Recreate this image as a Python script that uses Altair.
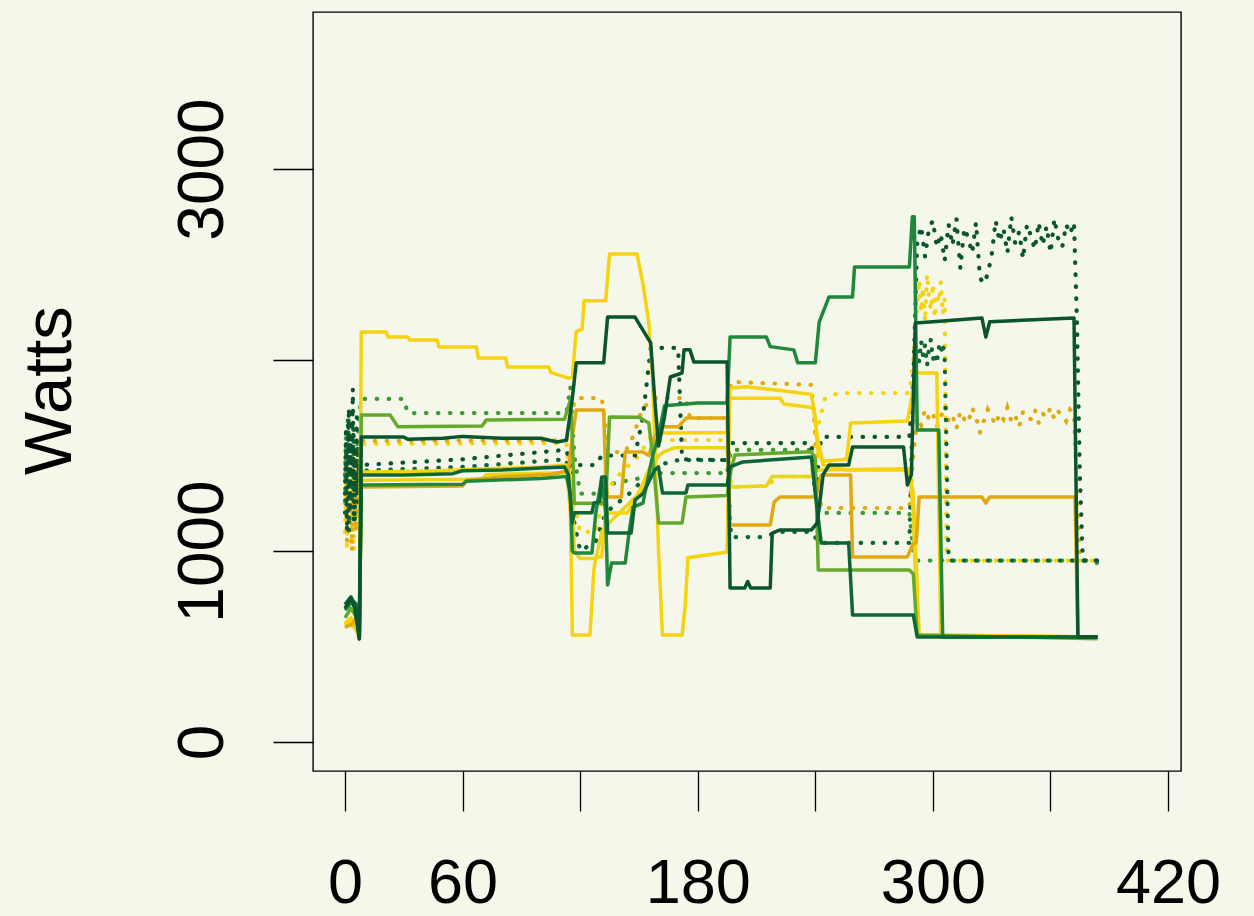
import altair as alt
import pandas as pd

# ---------------- solid series: (seconds, watts) ----------------
Y1 = [(0,620),(3,650),(6,610),(7.3,540),(8.3,2147),(21,2147),(22,2120),(32,2120),(33,2105),(47,2105),(48,2068),
      (67,2068),(68,2010),(82,2010),(83,1963),(104,1963),(105,1935),(114,1905),(116,1910),(118,2150),(121,2160),
      (122,2310),(133,2310),(135,2555),(149,2555),(152,2400),(155,2200),(157,1900),(160,1000),(162,560),(172,560),
      (173.5,700),(175,965),(195,995),(196.3,1800),(222,1800),(224,1770),(239,1750),(241,1600),(244,1450),
      (248,1440),(256,1424),(288,1424),(290,1300),(293,560),(384,550)]
Y2 = [(0,610),(4,640),(6.5,620),(7.3,545),(8.3,1414),(40,1418),(60,1425),(100,1440),(113,1450),(115,1200),
      (116,560),(125,560),(127,900),(128,969),(131,969),(133,1199),(144,1199),(147,1250),(152,1350),(158,1500),
      (160,1600),(162,1618),(195,1620),(196.5,1853),(205,1860),(222,1840),(238,1820),(240,1700),(241.5,1500),
      (244,1470),(256,1480),(258,1670),(287,1680),(289,1790),(291,1932),(302,1932),(304,550),(384,550)]
Y3 = [(0,630),(5,600),(7.3,550),(8.3,1370),(70,1375),(72,1400),(112,1410),(114,1430),(116,1300),(117,1000),
      (120,960),(128,960),(131,1100),(135,1150),(145,1250),(150,1300),(156,1420),(160,1500),(163,1520),
      (168,1540),(195,1540),(197,1335),(215,1340),(218,1390),(238,1390),(240,1420),(242,1424),(288,1430),
      (290,1200),(292,560),(384,550)]
O1 = [(0,600),(4,620),(6,660),(7.3,540),(8.3,1335),(60,1340),(62,1372),(80,1388),(105,1400),(114,1420),
      (116,1600),(118,1738),(132,1738),(133,1400),(134,1283),(141,1283),(143,1518),(152,1518),(155,1500),
      (158,1600),(162,1650),(170,1650),(174,1696),(195,1696),(196.5,1136),(217,1136),(219,1257),(222,1283),
      (240,1283),(243,1398),(258,1398),(259,969),(287,969),(290,1042),(291.5,1042),(293,1283),(325,1283),
      (327,1251),(329,1283),(372.5,1283),(374,550),(384,550)]
LG = [(0,650),(3,700),(6,650),(7.3,545),(8.3,1712),(23,1712),(27,1650),(70,1655),(72,1686),(112,1690),
      (115,1790),(116,1600),(117,1250),(133,1250),(135,1702),(150,1700),(155,1670),(157,1500),(160,1146),
      (172,1146),(174,1283),(195,1290),(197,1424),(199,1503),(238,1520),(240,1480),(241.5,900),(288,900),
      (290,880),(292,560),(384,540)]
G1 = [(0,690),(4,740),(6,720),(7.3,545),(8.3,1346),(60,1350),(62,1365),(100,1380),(113,1390),(115,1300),
      (116,1000),(117,990),(126,990),(128,1200),(131,1380),(133,1200),(134,822),(136,937),(143,937),(145,1100),
      (147,1230),(152,1250),(157,1500),(160,1600),(163,1760),(180,1775),(195,1775),(196.5,2121),(215,2121),
      (217,2070),(229,2053),(231,1985),(240,1985),(242,2200),(247,2330),(259,2330),(260,2487),(288,2487),
      (289.5,2750),(290.5,2750),(292,1634),(303,1634),(305,550),(384,550)]
DG1 = [(0,700),(3,750),(5,700),(7.3,540),(8.3,1597),(30,1597),(32,1585),(50,1590),(60,1600),(80,1590),
       (100,1590),(108,1571),(113,1580),(116,1800),(118,1985),(132,1985),(134,2225),(148,2225),(150,2190),
       (156,2090),(158,1800),(160,1550),(163,1700),(166,1911),(172,1932),(173,2053),(176,2053),(178,1990),
       (195,1990),(196.5,806),(204,806),(205.5,840),(207,806),(217,806),(218,1094),(222,1110),(238,1110),
       (241,1147),(244,1400),(247,1450),(257,1450),(259,1545),(285,1545),(287,1346),(289,1400),(291,2194),
       (300,2200),(325,2220),(327,2120),(329,2200),(372,2220),(374,550),(384,550)]
DG2 = [(0,720),(3,760),(6,700),(7.3,540),(8.3,1398),(30,1398),(55,1405),(60,1420),(80,1424),(100,1435),
       (112,1440),(114,1400),(116,1146),(117,1200),(126,1200),(127,1250),(130,1260),(131,1387),(133,1387),
       (134,1094),(146,1094),(148,1267),(152,1300),(158,1424),(160,1440),(162,1304),(174,1304),(175,1346),
       (195,1346),(196.5,1440),(203,1466),(238,1492),(240,1300),(243,1042),(257,1042),(259,665),(290,665),
       (292,550),(384,550)]

# ---------------- dotted series ----------------
D1_start = [1300,1650,1100,1500,1750,1200,1600,1400,1850,1150,1550,1300,1700,1250,1450]
D1_mid = [(8.3,1450),(60,1480),(113,1530),(116,1400),(118,1450),(128,1450),(131,1500),(148,1500),(152,1700),
          (156,2063),(170,2063),(172,1480),(195,1476),(197,1565),(238,1565),(240,1300),(243,1597),(288,1597),
          (290,1900)]
D1_noise = [2620,2700,2540,2690,2730,2590,2660,2520,2710,2600,2740,2480,2690,2640,2560,2720,2430,2400,2450,
            2550,2730,2620,2690,2560,2750,2610,2670,2530,2710,2650,2580,2720,2600,2700,2560,2740,2630,2590,
            2710,2660,2720]
D1_end = [(373.5,2200),(375,1400),(376.5,950),(384,950)]

D2_start = [1250,1500,1050,1400,1600,1150,1350,1000,1500,1200,1300,1100,1450,1200,1500]
D2_mid = [(8.3,1576),(113,1580),(116,1750),(118,1800),(131,1800),(133,1650),(134,1518),(143,1518),(147,1600),
          (152,1750),(158,1800),(174,1800),(176,1696),(195,1696),(197,1885),(238,1870),(240,1600),(243,1225),
          (288,1225),(290,1500)]
D2_noise = [1700,1660,1740,1690,1720,1650,1700,1760,1680,1710,1640,1730,1690,1670,1750,1700,1620,1680,1740,
            1700,1660,1720,1690,1750,1680,1710,1650,1730,1700,1690,1740,1670,1720,1700,1750,1690,1730,1710,
            1680,1740,1720]
D2_end = [(373.5,1300),(375,950),(384,950)]

D3_start = [1100,1350,1000,1250,1450,1050,1300,1150,1400,1000,1200,1350,1100,1300,1550]
D3_mid = [(8.3,1560),(113,1565),(116,1300),(120,1100),(128,1100),(132,1300),(140,1400),(150,1500),(156,1600),
          (160,1580),(195,1581),(197,1335),(215,1340),(222,1390),(238,1390),(240,1600),(245,1800),(252,1827),
          (288,1827),(290,2000)]
D3_noise = [2300,2420,2250,2380,2200,2450,2330,2260,2400,2220,2350,2300,2410,2240,2320]
D3_end = [(307,950),(384,950)]

D4_start = [1200,1550,1350,1700,1100,1450,1600,1250,1500,1650,1150,1400,1300,1550,1420]
D4_mid = [(8.3,1420),(60,1440),(113,1480),(116,1200),(120,1000),(128,1050),(133,1200),(145,1300),(155,1400),
          (160,1450),(170,1476),(195,1476),(197,1073),(215,1073),(220,1100),(238,1100),(242,1042),(288,1042),
          (290,1900)]
D4_noise = [2050,1990,2100,2020,2080,1970,2060,2110,2000,2040,1980,2070,2030,2090,2010]
D4_end = [(307,1500),(308,950),(384,950)]

D5_start = [1400,1600,1300,1500,1700,1350,1550,1450,1650,1300,1500,1400,1600,1500,1700]
D5_mid = [(8.3,1796),(30,1796),(32,1722),(113,1722),(115,1860),(117,1500),(120,1300),(130,1300),(135,1350),
          (150,1380),(160,1408),(195,1408),(197,1529),(238,1529),(240,1300),(243,1199),(288,1199),(290,1000),
          (292,950),(383,950),(384.5,920)]

START_T = [0,0.5,1,1.5,2,2.5,3,3.5,4,4.5,5,5.5,6,6.5,7]
RF_T2 = [292 + 2 * k for k in range(41)]
RF_T1 = [292 + k for k in range(15)]

solid_names = ["Y3", "Y1", "Y2", "O1", "LG", "G1", "DG2", "DG1"]
solid_cols = ["#EAD41C", "#F6D30E", "#F6D30E", "#E0A912", "#66AA2C", "#20883C", "#0E6636", "#0A5530"]
solid_data = {"Y1": Y1, "Y2": Y2, "Y3": Y3, "O1": O1, "LG": LG, "G1": G1, "DG1": DG1, "DG2": DG2}

dot_names = ["dD5", "dD3", "dD2", "dD4", "dD1"]
dot_cols = ["#3C9A35", "#F6D30E", "#E0A912", "#0E6636", "#0A5530"]
dot_data = {
    "dD1": list(zip(START_T, D1_start)) + D1_mid + list(zip(RF_T2, D1_noise)) + D1_end,
    "dD2": list(zip(START_T, D2_start)) + D2_mid + list(zip(RF_T2, D2_noise)) + D2_end,
    "dD3": list(zip(START_T, D3_start)) + D3_mid + list(zip(RF_T1, D3_noise)) + D3_end,
    "dD4": list(zip(START_T, D4_start)) + D4_mid + list(zip(RF_T1, D4_noise)) + D4_end,
    "dD5": list(zip(START_T, D5_start)) + D5_mid,
}

rows_s = []
for n in solid_names:
    for i, (t, w) in enumerate(solid_data[n]):
        rows_s.append({"series": n, "t": t, "w": w, "i": i})
rows_d = []
for n in dot_names:
    for i, (t, w) in enumerate(dot_data[n]):
        rows_d.append({"series": n, "t": t, "w": w, "i": i})
df_s = pd.DataFrame(rows_s)
df_d = pd.DataFrame(rows_d)

FONT = "Liberation Sans"
xscale = alt.Scale(domain=[-16.33, 426.6], nice=False, zero=False)
yscale = alt.Scale(domain=[-152, 3822], nice=False, zero=False)

xaxis = alt.Axis(values=[0, 60, 120, 180, 240, 300, 360, 420], format="d",
                 labelExpr="(datum.value == 120 || datum.value == 240 || datum.value == 360) ? '' : datum.label",
                 labelFont=FONT, labelFontSize=63, labelColor="#000", labelPadding=91,
                 labelBaseline="alphabetic", labelAlign="center", labelOverlap=False, labelFlush=False,
                 tickSize=40, tickWidth=1.3, tickColor="#000", domain=False, grid=False, title=None)
yaxis = alt.Axis(values=[0, 1000, 2000, 3000], format="d",
                 labelExpr="datum.value == 2000 ? '' : datum.label",
                 labelFont=FONT, labelFontSize=64, labelColor="#000", labelAngle=270,
                 labelAlign="center", labelBaseline="alphabetic", labelPadding=51,
                 labelOverlap=False, labelFlush=False,
                 tickSize=40, tickWidth=1.3, tickColor="#000", domain=False, grid=False,
                 title="Watts", titleFont=FONT, titleFontSize=67, titleFontWeight="normal",
                 titleColor="#000", titleAngle=270, titleX=-243, titleY=378,
                 titleAlign="center", titleBaseline="alphabetic")

dotted = alt.Chart(df_d).mark_line(strokeWidth=4.2, strokeDash=[0.5, 11.5], strokeCap="round").encode(
    x=alt.X("t:Q", scale=xscale, axis=xaxis),
    y=alt.Y("w:Q", scale=yscale, axis=yaxis),
    color=alt.Color("series:N", scale=alt.Scale(domain=dot_names, range=dot_cols), legend=None),
    order=alt.Order("i:Q"),
)
solid = alt.Chart(df_s).mark_line(strokeWidth=3.5, strokeJoin="round").encode(
    x=alt.X("t:Q", scale=xscale, axis=xaxis),
    y=alt.Y("w:Q", scale=yscale, axis=yaxis),
    color=alt.Color("series:N", scale=alt.Scale(domain=solid_names, range=solid_cols), legend=None),
    order=alt.Order("i:Q"),
)

chart = alt.layer(dotted, solid).resolve_scale(color="independent").properties(
    width=868, height=759,
    autosize=alt.AutoSizeParams(type="none"),
    padding={"left": 313, "top": 12, "right": 73, "bottom": 145},
    background="#F4F7EA",
).configure_view(stroke="#000", strokeWidth=1.4)

chart.save("out.html", embed_options={"renderer": "svg", "actions": False})
